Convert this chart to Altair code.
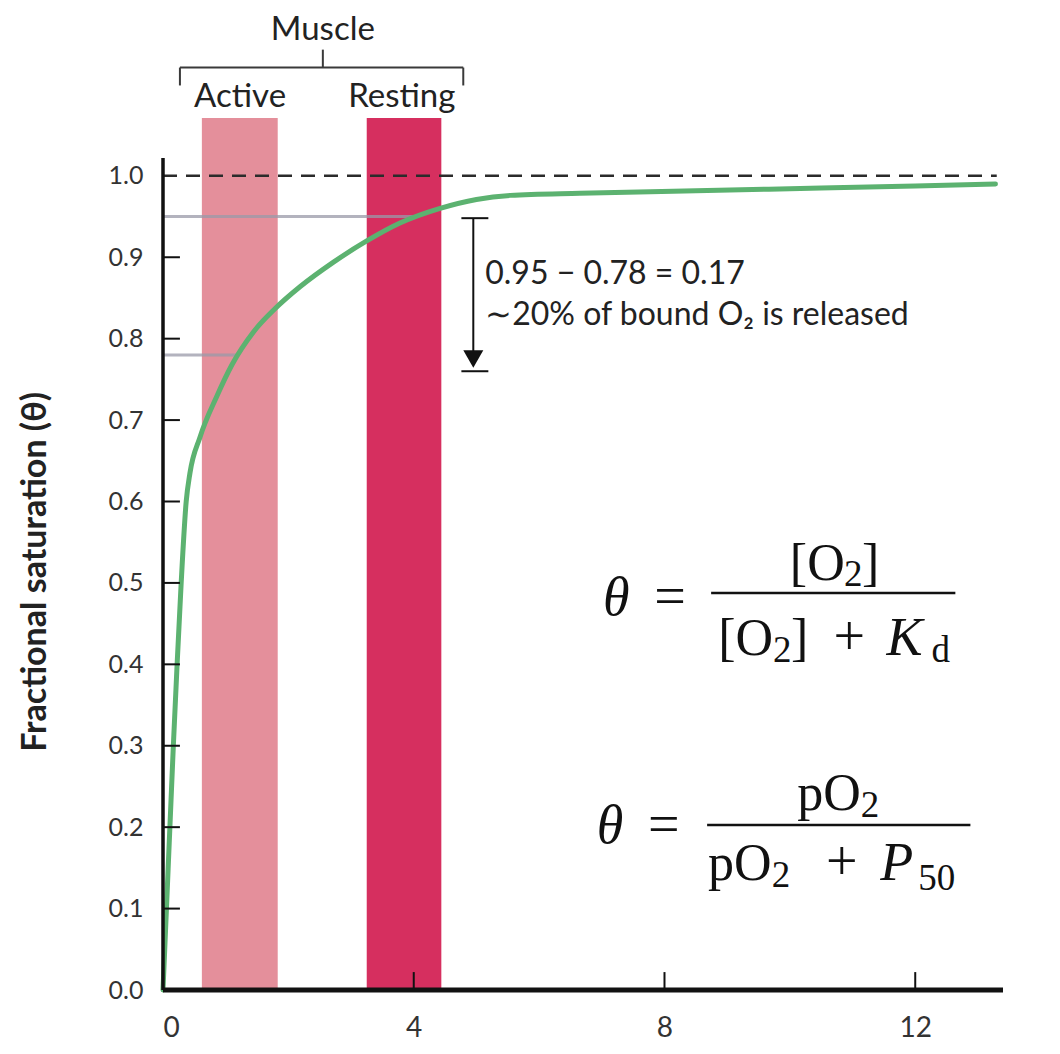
import altair as alt
import pandas as pd

# Myoglobin O2-binding curve: pO2 (kPa) vs fractional saturation
po2 = [0, 0.055, 0.11, 0.165, 0.225, 0.29, 0.37, 0.43, 0.59, 0.857, 1.10, 1.44,
       1.79, 2.19, 2.72, 3.25, 3.78, 4.42, 5.00, 5.54, 6.65, 8.50, 10.50, 12.00, 13.28]
theta = [0, 0.10, 0.20, 0.30, 0.40, 0.50, 0.60, 0.635, 0.679, 0.729, 0.768, 0.808,
         0.837, 0.864, 0.894, 0.920, 0.942, 0.960, 0.971, 0.976, 0.9787, 0.9816,
         0.985, 0.9875, 0.990]

# pO2 ranges in muscle
band_names = ["Active", "Resting"]
band_start = [0.62, 3.25]
band_end = [1.83, 4.44]
band_colors = ["#e48f9b", "#d62f5f"]
band_top = 1.071

# saturation levels
ref_theta = [0.95, 0.78]
ref_end = [4.05, 1.19]

x_ticks = [0, 4, 8, 12]
y_ticks = [0.0, 0.1, 0.2, 0.3, 0.4, 0.5, 0.6, 0.7, 0.8, 0.9, 1.0]

X_MAX = 13.4
Y_MAX = 1.2
SANS = "Lato"
SERIF = "Liberation Serif"

xs = alt.Scale(domain=[0, X_MAX], nice=False, zero=False)
ys = alt.Scale(domain=[0, Y_MAX], nice=False, zero=False)

curve_df = pd.DataFrame({"po2": po2, "theta": theta})
band_df = pd.DataFrame({"name": band_names, "x0": band_start, "x1": band_end,
                        "y0": [0.0, 0.0], "y1": [band_top, band_top]})
ref_df = pd.DataFrame({"theta": ref_theta, "x0": [0.0, 0.0], "x1": ref_end})

bands = alt.Chart(band_df).mark_rect().encode(
    x=alt.X("x0:Q", scale=xs, axis=alt.Axis(
        values=x_ticks, format="d", title=None, domain=False, ticks=False, grid=False,
        labelFont=SANS, labelFontSize=28, labelColor="#333", labelPadding=24)),
    x2="x1:Q",
    y=alt.Y("y0:Q", scale=ys, axis=alt.Axis(
        values=y_ticks, format=".1f", title=None, domain=False, ticks=False, grid=False,
        labelFont=SANS, labelFontSize=25, labelColor="#333", labelPadding=20)),
    y2="y1:Q",
    color=alt.Color("name:N", scale=alt.Scale(domain=band_names, range=band_colors), legend=None),
)

refs = alt.Chart(ref_df).mark_rule(color="#9a9aa8", strokeWidth=3, opacity=0.75).encode(
    x=alt.X("x0:Q", scale=xs), x2="x1:Q", y=alt.Y("theta:Q", scale=ys)
)

full_sat = alt.Chart(pd.DataFrame({"x0": [0.0], "x1": [13.3], "y": [1.0]})).mark_rule(
    color="#2b2b2b", strokeWidth=2.5, strokeDash=[14, 9]
).encode(x=alt.X("x0:Q", scale=xs), x2="x1:Q", y=alt.Y("y:Q", scale=ys))

curve = alt.Chart(curve_df).mark_line(
    color="#5cb270", strokeWidth=5, interpolate="monotone", strokeCap="round"
).encode(x=alt.X("po2:Q", scale=xs), y=alt.Y("theta:Q", scale=ys))

# axis lines and inward ticks
y_axis_line = alt.Chart(pd.DataFrame({"x": [0.0], "y0": [0.0], "y1": [1.022]})).mark_rule(
    color="#111", strokeWidth=3.5
).encode(x=alt.X("x:Q", scale=xs), y=alt.Y("y0:Q", scale=ys), y2="y1:Q")
x_axis_line = alt.Chart(pd.DataFrame({"x0": [0.0], "x1": [X_MAX], "y": [0.0]})).mark_rule(
    color="#111", strokeWidth=5
).encode(x=alt.X("x0:Q", scale=xs), x2="x1:Q", y=alt.Y("y:Q", scale=ys))
ytick_df = pd.DataFrame({"y": y_ticks[1:10], "x0": 0.0, "x1": 0.27})
yticks = alt.Chart(ytick_df).mark_rule(color="#111", strokeWidth=2).encode(
    x=alt.X("x0:Q", scale=xs), x2="x1:Q", y=alt.Y("y:Q", scale=ys)
)
xtick_df = pd.DataFrame({"x": x_ticks[1:], "y0": 0.0, "y1": 0.022})
xticks = alt.Chart(xtick_df).mark_rule(color="#111", strokeWidth=2).encode(
    x=alt.X("x:Q", scale=xs), y=alt.Y("y0:Q", scale=ys), y2="y1:Q"
)

# "Muscle" bracket over the two bands
bracket_df = pd.DataFrame({
    "x0": [0.27, 0.27, 4.79, 2.55],
    "x1": [4.79, 0.27, 4.79, 2.55],
    "y0": [1.133, 1.133, 1.133, 1.133],
    "y1": [1.133, 1.111, 1.111, 1.155],
})
bracket = alt.Chart(bracket_df).mark_rule(color="#3a3a3a", strokeWidth=2).encode(
    x=alt.X("x0:Q", scale=xs), x2="x1:Q", y=alt.Y("y0:Q", scale=ys), y2="y1:Q"
)
muscle_df = pd.DataFrame({"label": ["Muscle", "Active", "Resting"],
                          "x": [2.55, 1.23, 3.81], "y": [1.179, 1.097, 1.097]})
muscle_text = alt.Chart(muscle_df).mark_text(
    font=SANS, fontSize=33, color="#222", align="center", baseline="middle"
).encode(x=alt.X("x:Q", scale=xs), y=alt.Y("y:Q", scale=ys), text="label:N")

# released-oxygen arrow
arrow_df = pd.DataFrame({"x0": [4.95, 4.76, 4.76], "x1": [4.95, 5.19, 5.19],
                         "y0": [0.948, 0.948, 0.760], "y1": [0.775, 0.948, 0.760]})
arrow_lines = alt.Chart(arrow_df).mark_rule(color="#111", strokeWidth=2).encode(
    x=alt.X("x0:Q", scale=xs), x2="x1:Q", y=alt.Y("y0:Q", scale=ys), y2="y1:Q"
)
arrow_head = alt.Chart(pd.DataFrame({"x": [4.95], "y": [0.775]})).mark_point(
    shape="triangle-down", filled=True, size=400, color="#111", opacity=1
).encode(x=alt.X("x:Q", scale=xs), y=alt.Y("y:Q", scale=ys))

note_df = pd.DataFrame({"label": ["0.95 \u2212 0.78 = 0.17", "\u223c20% of bound O\u2082 is released"],
                        "x": [5.14, 5.14], "y": [0.880, 0.829]})
note = alt.Chart(note_df).mark_text(
    font=SANS, fontSize=32, color="#222", align="left", baseline="middle"
).encode(x=alt.X("x:Q", scale=xs), y=alt.Y("y:Q", scale=ys), text="label:N")

# binding equations, set piece by piece
eq_text = ["\u03b8", "=", "[O", "2", "]", "[O", "2", "]", "+", "K", "d",
           "\u03b8", "=", "pO", "2", "pO", "2", "+", "P", "50"]
eq_x = [7.23, 8.09, 10.00, 10.863, 11.15, 8.856, 9.731, 10.018, 10.95, 11.54, 12.26,
        7.13, 7.99, 10.117, 11.13, 8.696, 9.71, 10.83, 11.44, 12.05]
eq_y = [0.4607, 0.4607, 0.5037, 0.4963, 0.5037, 0.4115, 0.403, 0.4115, 0.4115, 0.4115, 0.403,
        0.1806, 0.1806, 0.2211, 0.2125, 0.1351, 0.1265, 0.1351, 0.1351, 0.1229]
eq_kind = ["theta", "op", "main", "sub", "main", "main", "sub", "main", "op", "var", "sub",
           "theta", "op", "main", "sub", "main", "sub", "op", "var", "sub"]
eq_df = pd.DataFrame({"label": eq_text, "x": eq_x, "y": eq_y, "kind": eq_kind})


def eq_layer(kind, align, size, style="normal"):
    return alt.Chart(eq_df).transform_filter(alt.datum.kind == kind).mark_text(
        font=SERIF, fontSize=size, fontStyle=style, color="#111",
        align=align, baseline="alphabetic"
    ).encode(x=alt.X("x:Q", scale=xs), y=alt.Y("y:Q", scale=ys), text="label:N")


eq_bars_df = pd.DataFrame({"x0": [8.744, 8.68], "x1": [12.64, 12.88], "y": [0.4877, 0.2027]})
eq_bars = alt.Chart(eq_bars_df).mark_rule(color="#111", strokeWidth=2.5).encode(
    x=alt.X("x0:Q", scale=xs), x2="x1:Q", y=alt.Y("y:Q", scale=ys)
)

y_title = alt.Chart(pd.DataFrame({"label": ["Fractional saturation (\u03b8)"], "y": [0.5135]})).mark_text(
    font=SANS, fontSize=34, fontWeight="bold", color="#222", angle=270,
    align="center", baseline="middle"
).encode(x=alt.value(-127), y=alt.Y("y:Q", scale=ys), text="label:N")

chart = alt.layer(
    bands, refs, full_sat, curve, y_axis_line, x_axis_line, yticks, xticks,
    bracket, muscle_text, arrow_lines, arrow_head, note,
    eq_layer("theta", "center", 54, "italic"), eq_layer("op", "center", 56),
    eq_layer("main", "left", 52), eq_layer("var", "left", 54, "italic"),
    eq_layer("sub", "left", 37), eq_bars, y_title,
).properties(
    width=840, height=977,
    autosize=alt.AutoSizeParams(type="none"),
    padding={"left": 163, "top": 13, "right": 57, "bottom": 64},
).configure_view(stroke=None)

chart.save("out.html", embed_options={"renderer": "svg", "actions": False})
